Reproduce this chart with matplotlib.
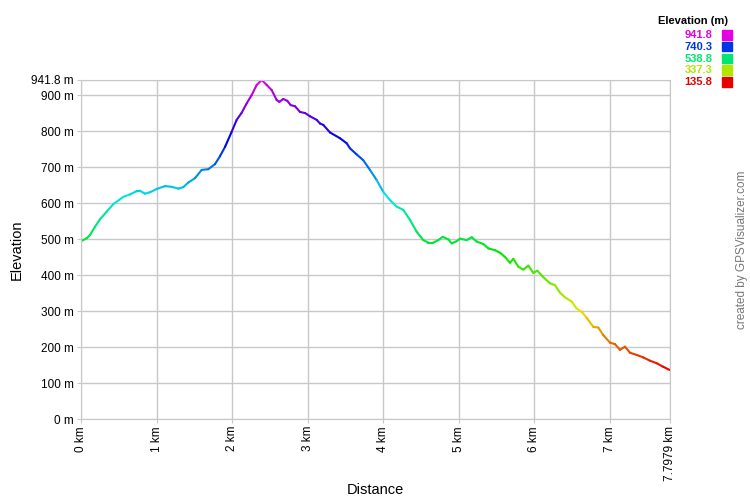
import numpy as np
import matplotlib as mpl
import matplotlib.pyplot as plt
from matplotlib.collections import LineCollection
from matplotlib.colors import ListedColormap, Normalize, hsv_to_rgb

mpl.rcParams['font.family'] = ['Liberation Sans', 'DejaVu Sans']

# track profile
distance_km = [0.000, 0.075, 0.119, 0.185, 0.252, 0.340, 0.428, 0.560, 0.649, 0.737,
               0.781, 0.847, 0.914, 1.002, 1.112, 1.201, 1.288, 1.354, 1.421, 1.509,
               1.598, 1.685, 1.774, 1.840, 1.907, 1.995, 2.061, 2.128, 2.194, 2.260,
               2.326, 2.392, 2.458, 2.524, 2.591, 2.626, 2.678, 2.731, 2.776, 2.833,
               2.900, 2.966, 3.032, 3.121, 3.164, 3.208, 3.297, 3.429, 3.518, 3.561,
               3.650, 3.737, 3.826, 3.914, 4.002, 4.091, 4.180, 4.267, 4.356, 4.445,
               4.532, 4.598, 4.664, 4.731, 4.789, 4.863, 4.908, 4.974, 5.018, 5.107,
               5.173, 5.239, 5.327, 5.393, 5.481, 5.547, 5.614, 5.680, 5.724, 5.790,
               5.856, 5.922, 5.989, 6.041, 6.121, 6.209, 6.275, 6.342, 6.408, 6.497,
               6.563, 6.629, 6.695, 6.783, 6.849, 6.915, 7.004, 7.070, 7.136, 7.202,
               7.269, 7.357, 7.445, 7.532, 7.621, 7.709, 7.7979]
elevation_m = [494, 502, 511, 534, 555, 576, 597, 617, 624, 633,
               634, 626, 630, 639, 647, 645, 640, 644, 657, 669,
               692, 694, 708, 730, 756, 798, 831, 851, 877, 900,
               928, 941.8, 928, 914, 886, 881, 889, 884, 872, 869,
               853, 850, 841, 831, 821, 817, 796, 780, 766, 752,
               735, 719, 692, 664, 631, 608, 590, 581, 553, 520,
               497, 490, 490, 497, 506, 499, 488, 494, 501, 497,
               505, 493, 486, 474, 469, 462, 450, 434, 445, 423,
               415, 426, 406, 412, 394, 377, 372, 351, 338, 326,
               307, 298, 281, 256, 254, 233, 212, 208, 192, 201,
               184, 178, 171, 162, 155, 145, 135.8]

x_ticks = [0, 1, 2, 3, 4, 5, 6, 7, 7.7979]
y_ticks = [0, 100, 200, 300, 400, 500, 600, 700, 800, 900, 941.8]

x = np.array(distance_km)
y = np.array(elevation_m)
ymin, ymax = y.min(), y.max()

# red -> magenta hue ramp like GPSVisualizer
hues = np.linspace(0, 300 / 360, 256)
cmap = ListedColormap(hsv_to_rgb(np.column_stack([hues, np.ones(256), np.full(256, 0.9)])))
norm = Normalize(ymin, ymax)

fig = plt.figure(figsize=(7.5, 5), dpi=100)
ax = fig.add_axes([0.108, 0.162, 0.7853, 0.678])

pts = np.column_stack([x, y]).reshape(-1, 1, 2)
segs = np.concatenate([pts[:-1], pts[1:]], axis=1)
lc = LineCollection(segs, cmap=cmap, norm=norm, linewidth=1.5, capstyle='round')
lc.set_array((y[:-1] + y[1:]) / 2)
ax.add_collection(lc)

ax.set_xlim(0, 7.7979)
ax.set_ylim(0, 941.8)
ax.set_xticks(x_ticks)
ax.set_xticklabels([f"{v:g} km" for v in x_ticks], rotation=90, fontsize=8.5)
ax.set_yticks(y_ticks)
ax.set_yticklabels([f"{v:g} m" for v in y_ticks], fontsize=8.5)
ax.tick_params(length=3, color='#c8c8c8', pad=2)
ax.grid(True, color='#c8c8c8', linewidth=1)
for s in ax.spines.values():
    s.set_color('#c8c8c8')

fig.text(0.500, 0.020, 'Distance', ha='center', va='center', fontsize=10.5)
fig.text(0.023, 0.50, 'Elevation', ha='center', va='center', rotation=90, fontsize=10.5)

# legend
fig.text(0.971, 0.958, 'Elevation (m)', ha='right', va='center', fontsize=8, fontweight='bold')
leg_vals = np.linspace(ymax, ymin, 5)
for i, v in enumerate(leg_vals):
    yy = 0.930 - i * 0.0235
    c = cmap(norm(v))
    fig.text(0.950, yy, f"{v:.1f}", ha='right', va='center', fontsize=8,
             fontweight='bold', color=c)
    fig.patches.append(plt.Rectangle((0.9627, yy - 0.0095), 0.0133, 0.019,
                                     transform=fig.transFigure, color=c))

fig.text(0.989, 0.5, 'created by GPSVisualizer.com', rotation=90, ha='center',
         va='center', fontsize=8.5, color='#777777')

fig.savefig('out.png', dpi=100)
